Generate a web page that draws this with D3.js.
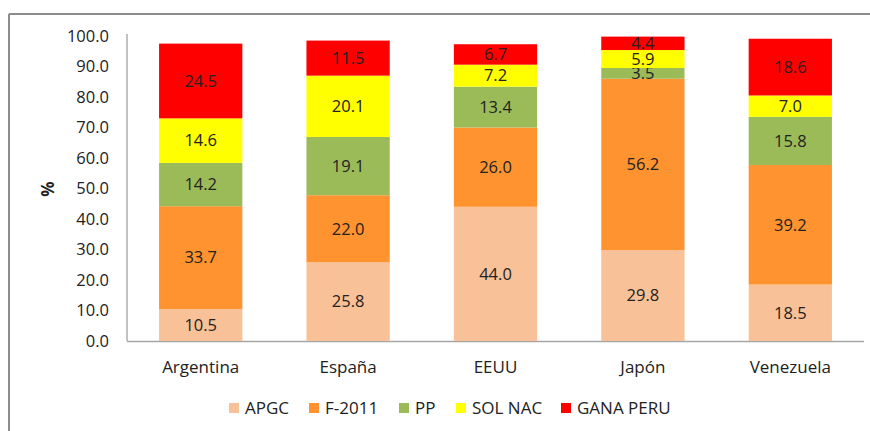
<!doctype html>
<html>
<head>
<meta charset="utf-8">
<script src="https://d3js.org/d3.v7.min.js"></script>
<style>
  body { margin: 0; background: #fff; }
  text { font-family: "Open Sans", "Noto Sans", sans-serif; fill: #222; }
</style>
</head>
<body>
<svg class="chart"></svg>
<script>
var countries = ["Argentina", "España", "EEUU", "Japón", "Venezuela"];
var seriesNames = ["APGC", "F-2011", "PP", "SOL NAC", "GANA PERU"];
var seriesColors = ["#f9c197", "#ff9330", "#9bbb59", "#ffff00", "#ff0000"];
var apgc = [10.5, 25.8, 44.0, 29.8, 18.5];
var f2011 = [33.7, 22.0, 26.0, 56.2, 39.2];
var pp = [14.2, 19.1, 13.4, 3.5, 15.8];
var solnac = [14.6, 20.1, 7.2, 5.9, 7.0];
var ganaperu = [24.5, 11.5, 6.7, 4.4, 18.6];
var yTicks = [0, 10, 20, 30, 40, 50, 60, 70, 80, 90, 100];

var width = 870, height = 431;
var svg = d3.select(".chart").attr("width", width).attr("height", height);

// outer frame (only top and left edges visible)
svg.append("line").attr("x1", 9).attr("x2", width).attr("y1", 14).attr("y2", 14)
    .attr("stroke", "#8c8c8c").attr("stroke-width", 2);
svg.append("line").attr("x1", 9).attr("x2", 9).attr("y1", 14).attr("y2", height)
    .attr("stroke", "#8c8c8c").attr("stroke-width", 2);

var rows = countries.map(function(c, i) {
    return { country: c, "APGC": apgc[i], "F-2011": f2011[i], "PP": pp[i],
             "SOL NAC": solnac[i], "GANA PERU": ganaperu[i] };
});
var stacked = d3.stack().keys(seriesNames)(rows);

var x = d3.scaleBand().domain(countries).range([127, 864]).paddingInner(0.435).paddingOuter(0.2175);
var y = d3.scaleLinear().domain([0, 100]).range([341, 36]);
var color = d3.scaleOrdinal().domain(seriesNames).range(seriesColors);

// axes
svg.append("line").attr("x1", 127).attr("x2", 127).attr("y1", 34).attr("y2", y(0))
    .attr("stroke", "#868686");
svg.append("line").attr("x1", 127).attr("x2", 864).attr("y1", y(0) + 0.5).attr("y2", y(0) + 0.5)
    .attr("stroke", "#a6a6a6").attr("stroke-width", 1.5);

svg.selectAll(".ytick").data(yTicks).enter().append("text")
    .attr("x", 109).attr("y", function(d) { return y(d); })
    .attr("dy", "0.35em").attr("text-anchor", "end")
    .style("font-size", "16.5px")
    .text(function(d) { return d.toFixed(1); });

svg.append("text")
    .attr("transform", "translate(48,189) rotate(-90)")
    .attr("text-anchor", "middle").attr("dy", "0.35em")
    .style("font-size", "17px").style("font-weight", "bold")
    .text("%");

svg.selectAll(".xlab").data(countries).enter().append("text")
    .attr("x", function(d) { return x(d) + x.bandwidth() / 2; })
    .attr("y", 367).attr("dy", "0.35em").attr("text-anchor", "middle")
    .style("font-size", "17px")
    .text(function(d) { return d; });

// bars
var groups = svg.selectAll(".series").data(stacked).enter().append("g")
    .attr("fill", function(d) { return color(d.key); });
groups.selectAll("rect").data(function(d) { return d; }).enter().append("rect")
    .attr("x", function(d) { return x(d.data.country); })
    .attr("width", x.bandwidth())
    .attr("y", function(d) { return y(d[1]); })
    .attr("height", function(d) { return y(d[0]) - y(d[1]); });

// value labels
groups.selectAll("text").data(function(d) { return d; }).enter().append("text")
    .attr("x", function(d) { return x(d.data.country) + x.bandwidth() / 2; })
    .attr("y", function(d) { return (y(d[0]) + y(d[1])) / 2; })
    .attr("dy", "0.35em").attr("text-anchor", "middle")
    .style("font-size", "16.5px")
    .text(function(d) { return (d[1] - d[0]).toFixed(1); });

// legend
var legendX = [229, 309, 399, 456, 561];
var legend = svg.selectAll(".legend").data(seriesNames).enter().append("g")
    .attr("transform", function(d, i) { return "translate(" + legendX[i] + ",408)"; });
legend.append("rect").attr("x", 0).attr("y", -5).attr("width", 10).attr("height", 10)
    .attr("fill", function(d) { return color(d); });
legend.append("text").attr("x", 16).attr("dy", "0.35em")
    .style("font-size", "17px")
    .text(function(d) { return d; });
</script>
</body>
</html>
